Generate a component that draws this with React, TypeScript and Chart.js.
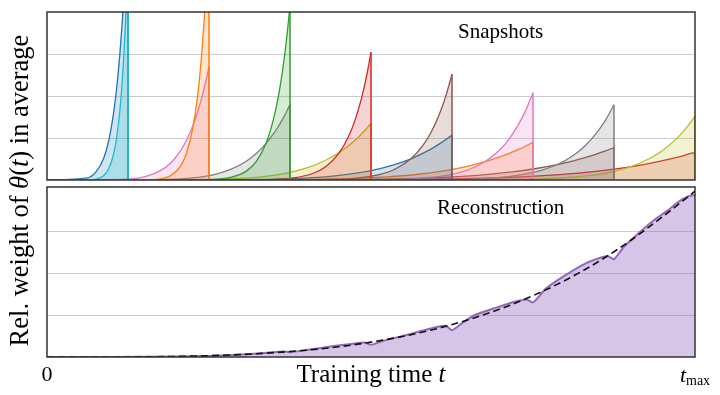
import React, { useEffect, useRef } from 'react';
import { Chart, registerables } from 'chart.js';

Chart.register(...registerables);

// ---------- data ----------
const snapshotTimes = [0.125, 0.25, 0.375, 0.5, 0.625, 0.75, 0.875, 1.0];
// sample positions inside each snapshot window, as a fraction of its end time
const relGrid = [0, 0.5, 0.6, 0.7, 0.76, 0.82, 0.86, 0.9, 0.93, 0.95, 0.97, 0.985, 1];

const wideS1 = [0, 0.05, 0.18, 0.52, 0.92, 1.57, 2.19, 3.01, 3.79, 4.4, 5.09, 5.67, 6.3];
const narrowS1 = [0, 0.003, 0.019, 0.105, 0.26, 0.6, 1.01, 1.66, 2.39, 3.02, 3.79, 4.49, 5.3];
const wideS2 = [0, 0.021, 0.076, 0.222, 0.394, 0.672, 0.94, 1.291, 1.625, 1.885, 2.182, 2.43, 2.7];
const narrowS2 = [0, 0.0002, 0.003, 0.029, 0.098, 0.306, 0.624, 1.236, 2.02, 2.78, 3.8, 4.78, 6.0];
const wideS3 = [0, 0.014, 0.05, 0.148, 0.263, 0.448, 0.626, 0.86, 1.084, 1.256, 1.454, 1.62, 1.8];
const narrowS3 = [0, 0.0001, 0.002, 0.02, 0.068, 0.212, 0.432, 0.855, 1.4, 1.92, 2.63, 3.31, 4.15];
const wideS4 = [0, 0.011, 0.038, 0.111, 0.197, 0.336, 0.47, 0.645, 0.813, 0.942, 1.091, 1.215, 1.35];
const narrowS4 = [0, 0.0001, 0.0015, 0.015, 0.05, 0.155, 0.316, 0.626, 1.024, 1.408, 1.924, 2.423, 3.04];
const wideS5 = [0, 0.008, 0.03, 0.088, 0.156, 0.266, 0.372, 0.511, 0.644, 0.747, 0.865, 0.963, 1.07];
const narrowS5 = [0, 0.0001, 0.0013, 0.012, 0.041, 0.129, 0.262, 0.519, 0.849, 1.167, 1.595, 2.008, 2.52];
const wideS6 = [0, 0.007, 0.025, 0.074, 0.131, 0.224, 0.313, 0.43, 0.542, 0.628, 0.727, 0.81, 0.9];
const narrowS6 = [0, 0.0001, 0.001, 0.01, 0.034, 0.106, 0.216, 0.428, 0.701, 0.963, 1.317, 1.658, 2.08];
const wideS7 = [0, 0.006, 0.022, 0.063, 0.112, 0.192, 0.268, 0.368, 0.464, 0.537, 0.622, 0.693, 0.77];
const narrowS7 = [0, 0.0001, 0.0009, 0.0086, 0.029, 0.091, 0.186, 0.369, 0.603, 0.829, 1.133, 1.427, 1.79];
const wideS8 = [0, 0.005, 0.018, 0.054, 0.096, 0.164, 0.23, 0.315, 0.397, 0.461, 0.533, 0.594, 0.66];
const narrowS8 = [0, 0.00005, 0.0008, 0.0073, 0.025, 0.078, 0.158, 0.313, 0.512, 0.704, 0.962, 1.211, 1.52];

const wideProfiles = [wideS1, wideS2, wideS3, wideS4, wideS5, wideS6, wideS7, wideS8];
const narrowProfiles = [narrowS1, narrowS2, narrowS3, narrowS4, narrowS5, narrowS6, narrowS7, narrowS8];

const wideColors = ['#1f77b4', '#e377c2', '#7f7f7f', '#bcbd22', '#1f77b4', '#ff7f0e', '#8c564b', '#d62728'];
const narrowColors = ['#17becf', '#ff7f0e', '#2ca02c', '#d62728', '#8c564b', '#e377c2', '#7f7f7f', '#bcbd22'];

const reconTime = [0, 0.1, 0.2, 0.25, 0.3, 0.34, 0.365, 0.375, 0.4, 0.44, 0.47, 0.49, 0.5, 0.52, 0.555, 0.58, 0.6, 0.615, 0.625, 0.64, 0.66, 0.69, 0.72, 0.74, 0.75, 0.77, 0.8, 0.83, 0.855, 0.866, 0.875, 0.89, 0.915, 0.94, 0.956, 0.975, 0.99, 1.0];
const reconValue = [0, 0.001, 0.013, 0.026, 0.06, 0.1, 0.13, 0.115, 0.165, 0.255, 0.31, 0.345, 0.29, 0.39, 0.525, 0.63, 0.71, 0.745, 0.64, 0.8, 1.0, 1.16, 1.31, 1.37, 1.3, 1.63, 1.95, 2.22, 2.37, 2.4, 2.33, 2.62, 2.98, 3.3, 3.47, 3.7, 3.83, 3.86];

const targetTime = [0, 0.1, 0.2, 0.3, 0.4, 0.45, 0.5, 0.55, 0.6, 0.65, 0.7, 0.75, 0.8, 0.85, 0.9, 0.95, 1.0];
const targetValue = [0, 0.001, 0.014, 0.059, 0.162, 0.244, 0.354, 0.494, 0.669, 0.886, 1.148, 1.461, 1.83, 2.264, 2.77, 3.343, 3.95];

const xTickLabels = ['0', 't', 'max'];

// ---------- helpers ----------
const SERIF = '"Liberation Serif", "DejaVu Serif", "Times New Roman", serif';

function hexA(hex: string, a: number) {
  const n = parseInt(hex.slice(1), 16);
  return `rgba(${(n >> 16) & 255},${(n >> 8) & 255},${n & 255},${a})`;
}

type Run = { text: string; font: string; dy?: number };

function drawRuns(ctx: CanvasRenderingContext2D, runs: Run[], x: number, y: number) {
  let total = 0;
  for (const r of runs) {
    ctx.font = r.font;
    total += ctx.measureText(r.text).width;
  }
  let cx = x - total / 2;
  for (const r of runs) {
    ctx.font = r.font;
    ctx.fillText(r.text, cx, y + (r.dy || 0));
    cx += ctx.measureText(r.text).width;
  }
}

const decorPlugin = {
  id: 'decor',
  afterDatasetsDraw(chart: any) {
    const { ctx, chartArea, scales } = chart;
    ctx.save();
    ctx.strokeStyle = '#333333';
    ctx.lineWidth = 1.5;
    for (const id of ['yTop', 'yBot']) {
      const s = scales[id];
      ctx.strokeRect(chartArea.left, s.top, chartArea.right - chartArea.left, s.bottom - s.top);
    }
    ctx.restore();
  },
  afterDraw(chart: any) {
    const { ctx, chartArea, scales } = chart;
    const xs = scales.x;
    const top = scales.yTop;
    const bot = scales.yBot;
    ctx.save();
    ctx.fillStyle = '#000';
    ctx.textBaseline = 'alphabetic';
    // panel labels
    drawRuns(ctx, [{ text: 'Snapshots', font: `21px ${SERIF}` }], xs.getPixelForValue(0.7), top.top + 26);
    drawRuns(ctx, [{ text: 'Reconstruction', font: `21px ${SERIF}` }], xs.getPixelForValue(0.7), bot.top + 27);
    // x tick labels
    drawRuns(ctx, [{ text: xTickLabels[0], font: `22px ${SERIF}` }], xs.getPixelForValue(0), chartArea.bottom + 24);
    drawRuns(
      ctx,
      [
        { text: xTickLabels[1], font: `italic 22px ${SERIF}` },
        { text: xTickLabels[2], font: `14px ${SERIF}`, dy: 3 },
      ],
      xs.getPixelForValue(1),
      chartArea.bottom + 25
    );
    // x title
    drawRuns(
      ctx,
      [
        { text: 'Training time ', font: `25px ${SERIF}` },
        { text: 't', font: `italic 25px ${SERIF}` },
      ],
      (chartArea.left + chartArea.right) / 2,
      chartArea.bottom + 25
    );
    // y title
    ctx.translate(28, (chartArea.top + chartArea.bottom) / 2 + 6);
    ctx.rotate(-Math.PI / 2);
    const yf = 26.5;
    drawRuns(
      ctx,
      [
        { text: 'Rel. weight of ', font: `${yf}px ${SERIF}` },
        { text: 'θ', font: `italic ${yf}px ${SERIF}` },
        { text: '(', font: `${yf}px ${SERIF}` },
        { text: 't', font: `italic ${yf}px ${SERIF}` },
        { text: ') in average', font: `${yf}px ${SERIF}` },
      ],
      0,
      0
    );
    ctx.restore();
  },
};

function buildDatasets() {
  const ds: any[] = [];
  ds.push({
    label: 'target',
    data: targetTime.map((t, i) => ({ x: t, y: targetValue[i] })),
    yAxisID: 'yBot',
    borderColor: '#111',
    borderWidth: 1.6,
    borderDash: [7, 4],
    fill: false,
    cubicInterpolationMode: 'monotone',
    pointRadius: 0,
  });
  ds.push({
    label: 'reconstruction',
    data: reconTime.map((t, i) => ({ x: t, y: reconValue[i] })),
    yAxisID: 'yBot',
    borderColor: '#9467bd',
    borderWidth: 2,
    backgroundColor: hexA('#9467bd', 0.38),
    fill: 'origin',
    tension: 0.2,
    pointRadius: 0,
  });
  snapshotTimes.forEach((T, k) => {
    const pairs: [number[], string][] = [
      [narrowProfiles[k], narrowColors[k]],
      [wideProfiles[k], wideColors[k]],
    ];
    for (const [vals, col] of pairs) {
      ds.push({
        label: `snap${k}`,
        data: relGrid.map((r, i) => ({ x: r * T, y: vals[i] })),
        yAxisID: 'yTop',
        borderColor: col,
        borderWidth: 1.3,
        backgroundColor: hexA(col, 0.2),
        fill: 'origin',
        cubicInterpolationMode: 'monotone',
        pointRadius: 0,
      });
      ds.push({
        label: `drop${k}`,
        data: [
          { x: T, y: vals[vals.length - 1] },
          { x: T, y: 0 },
        ],
        yAxisID: 'yTop',
        borderColor: col,
        borderWidth: 1.5,
        fill: false,
        pointRadius: 0,
      });
    }
  });
  return ds;
}

export default function App() {
  const ref = useRef<HTMLCanvasElement>(null);
  useEffect(() => {
    const grid = { color: '#cccccc', lineWidth: 1, drawTicks: false };
    const chart = new Chart(ref.current as HTMLCanvasElement, {
      type: 'line',
      data: { datasets: buildDatasets() },
      options: {
        responsive: false,
        animation: false,
        layout: { padding: { left: 47, right: 25, top: 12, bottom: 38 } },
        plugins: { legend: { display: false }, tooltip: { enabled: false }, title: { display: false } },
        scales: {
          x: { type: 'linear', min: 0, max: 1, display: false },
          yBot: {
            type: 'linear',
            position: 'left',
            stack: 'panels',
            stackWeight: 170,
            min: 0,
            max: 4.05,
            grid,
            border: { display: false },
            ticks: { display: false },
            afterBuildTicks: (s: any) => {
              s.ticks = [{ value: 1 }, { value: 2 }, { value: 3 }];
            },
          },
          yGap: {
            type: 'linear',
            position: 'left',
            stack: 'panels',
            stackWeight: 7,
            min: 0,
            max: 1,
            grid: { display: false, drawTicks: false },
            border: { display: false },
            ticks: { display: false },
          },
          yTop: {
            type: 'linear',
            position: 'left',
            stack: 'panels',
            stackWeight: 168,
            min: 0,
            max: 4,
            grid,
            border: { display: false },
            ticks: { display: false },
            afterBuildTicks: (s: any) => {
              s.ticks = [{ value: 1 }, { value: 2 }, { value: 3 }];
            },
          },
        },
      } as any,
      plugins: [decorPlugin],
    });
    return () => chart.destroy();
  }, []);
  return (
    <div style={{ position: 'fixed', left: 0, top: 0, width: 720, height: 395, background: '#fff' }}>
      <canvas ref={ref} width={720} height={395} style={{ display: 'block' }} />
    </div>
  );
}
